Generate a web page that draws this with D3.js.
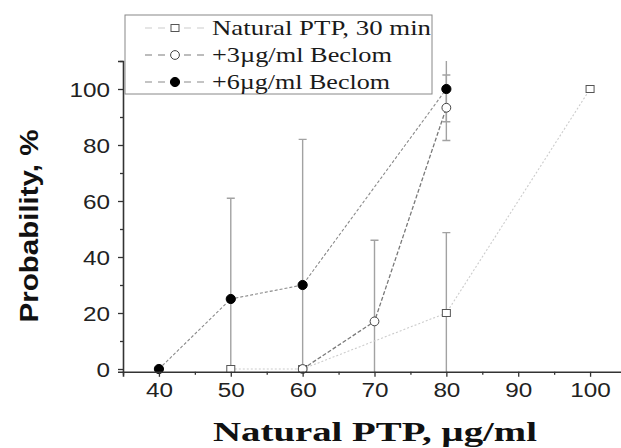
<!DOCTYPE html>
<html><head><meta charset="utf-8">
<script src="https://cdn.jsdelivr.net/npm/d3@7"></script>
<style>body{margin:0;background:#fff}svg{display:block}</style>
</head><body>
<svg id="chart" width="621" height="448"></svg>
<script>
// ---- data ----
const xTicks = [40, 50, 60, 70, 80, 90, 100];
const yTicks = [0, 20, 40, 60, 80, 100];
const seriesNames = ["Natural PTP, 30 min", "+3\u00b5g/ml Beclom", "+6\u00b5g/ml Beclom"];
const natX = [50, 60, 80, 100];
const natY = [0, 0, 20, 100];
const natErr = [0, 0, 28.7, 0];
const b3X = [60, 70, 80];
const b3Y = [0, 17, 93.3];
const b3Err = [0, 29, 11.7];
const b6X = [40, 50, 60, 80];
const b6Y = [0, 25, 30, 100];
const b6Err = [0, 36, 52, 11.7];
const xTitle = "Natural PTP, \u00b5g/ml";
const yTitle = "Probability, %";

const svg = d3.select("#chart");
const x = d3.scaleLinear().domain([35, 105]).range([123, 626]);
const y = d3.scaleLinear().domain([-1, 110]).range([371.8, 61]);

// clip
svg.append("defs").append("clipPath").attr("id", "plot")
  .append("rect").attr("x", 123).attr("y", y(110)).attr("width", 500).attr("height", y(-1) - y(110));

const series = [
  {xs: natX, ys: natY, err: natErr, line: "#cccccc", dash: "2,2", w: 1.1, marker: "square"},
  {xs: b3X, ys: b3Y, err: b3Err, line: "#7a7a7a", dash: "4,2", w: 1.3, marker: "open"},
  {xs: b6X, ys: b6Y, err: b6Err, line: "#8a8a8a", dash: "3,2", w: 1.1, marker: "filled"}
];

const plot = svg.append("g").attr("clip-path", "url(#plot)");

// error bars
series.forEach(s => {
  s.xs.forEach((xv, i) => {
    const e = s.err[i];
    if (!e) return;
    const g = plot.append("g").attr("stroke", "#a2a2a2").attr("stroke-width", 1.4);
    g.append("line").attr("x1", x(xv)).attr("x2", x(xv)).attr("y1", y(s.ys[i] - e)).attr("y2", y(s.ys[i] + e));
    [s.ys[i] - e, s.ys[i] + e].forEach(v => {
      g.append("line").attr("x1", x(xv) - 4).attr("x2", x(xv) + 4).attr("y1", y(v)).attr("y2", y(v));
    });
  });
});

// lines
const lineGen = d3.line().x(d => x(d[0])).y(d => y(d[1]));
series.forEach(s => {
  plot.append("path").datum(s.xs.map((v, i) => [v, s.ys[i]]))
    .attr("d", lineGen).attr("fill", "none").attr("stroke", s.line)
    .attr("stroke-width", s.w).attr("stroke-dasharray", s.dash);
});

function drawMarker(g, type, cx, cy) {
  if (type === "square") {
    g.append("rect").attr("x", cx - 4).attr("y", cy - 3.5).attr("width", 8).attr("height", 7)
      .attr("fill", "#fff").attr("stroke", "#555").attr("stroke-width", 1);
  } else if (type === "open") {
    g.append("circle").attr("cx", cx).attr("cy", cy).attr("r", 4.4)
      .attr("fill", "#fff").attr("stroke", "#444").attr("stroke-width", 1);
  } else {
    g.append("circle").attr("cx", cx).attr("cy", cy).attr("r", 4.6)
      .attr("fill", "#000").attr("stroke", "#000").attr("stroke-width", 1);
  }
}

const markers = svg.append("g");
series.forEach(s => {
  s.xs.forEach((xv, i) => drawMarker(markers, s.marker, x(xv), y(s.ys[i])));
});

// axes
const axisColor = "#333";
const xAxis = svg.append("g").attr("transform", `translate(0,${y(-1)})`)
  .call(d3.axisBottom(x).tickValues(xTicks).tickSize(5).tickPadding(6).tickFormat(d3.format("d")));
const xMinor = svg.append("g").attr("transform", `translate(0,${y(-1)})`)
  .call(d3.axisBottom(x).tickValues(xTicks.map(v => v + 5).concat([35])).tickSize(3).tickFormat(""));
xMinor.select(".domain").remove();
const yAxis = svg.append("g").attr("transform", `translate(${x(35)},0)`)
  .call(d3.axisLeft(y).tickValues(yTicks).tickSize(5).tickPadding(8).tickFormat(d3.format("d")));
const yMinor = svg.append("g").attr("transform", `translate(${x(35)},0)`)
  .call(d3.axisLeft(y).tickValues(yTicks.map(v => v + 10)).tickSize(3).tickFormat(""));
yMinor.select(".domain").remove();

[xAxis, yAxis, xMinor, yMinor].forEach(a => {
  a.selectAll(".domain").attr("stroke", axisColor).attr("stroke-width", 1.6);
  a.selectAll(".tick line").attr("stroke", axisColor).attr("stroke-width", 1.3);
});
[xAxis, yAxis].forEach(a => {
  a.selectAll(".tick text").attr("font-family", "Liberation Sans, Arial, sans-serif")
    .attr("font-size", 20).attr("fill", "#222")
    .attr("textLength", d => String(d).length * 13.5).attr("lengthAdjust", "spacingAndGlyphs");
});
yAxis.selectAll(".tick text").attr("dy", "0.36em");

// axis titles
svg.append("text").attr("x", 375).attr("y", 441).attr("text-anchor", "middle")
  .attr("font-family", "Liberation Serif, Times New Roman, serif").attr("font-weight", "bold")
  .attr("font-size", 28).attr("fill", "#111")
  .attr("textLength", 324).attr("lengthAdjust", "spacingAndGlyphs").text(xTitle);

svg.append("text").attr("transform", "translate(38,226) rotate(-90)").attr("text-anchor", "middle")
  .attr("font-family", "Liberation Sans, Arial, sans-serif").attr("font-weight", "bold")
  .attr("font-size", 25).attr("fill", "#111")
  .attr("textLength", 193).attr("lengthAdjust", "spacingAndGlyphs").text(yTitle);

// legend
const leg = svg.append("g");
leg.append("rect").attr("x", 125).attr("y", 15).attr("width", 307).attr("height", 79)
  .attr("fill", "#fff").attr("stroke", "#888").attr("stroke-width", 1);
const rowY = [28, 55, 82];
const textLens = [219, 180, 178];
series.forEach((s, i) => {
  leg.append("line").attr("x1", 145).attr("x2", 206).attr("y1", rowY[i]).attr("y2", rowY[i])
    .attr("stroke", s.line).attr("stroke-width", 1.1).attr("stroke-dasharray", "7,6");
  drawMarker(leg, s.marker, 175, rowY[i]);
  leg.append("text").attr("x", 212).attr("y", rowY[i] + 7)
    .attr("font-family", "Liberation Serif, Times New Roman, serif").attr("font-size", 21)
    .attr("fill", "#1a1a1a").attr("textLength", textLens[i]).attr("lengthAdjust", "spacingAndGlyphs")
    .text(seriesNames[i]);
});
</script>
</body></html>
